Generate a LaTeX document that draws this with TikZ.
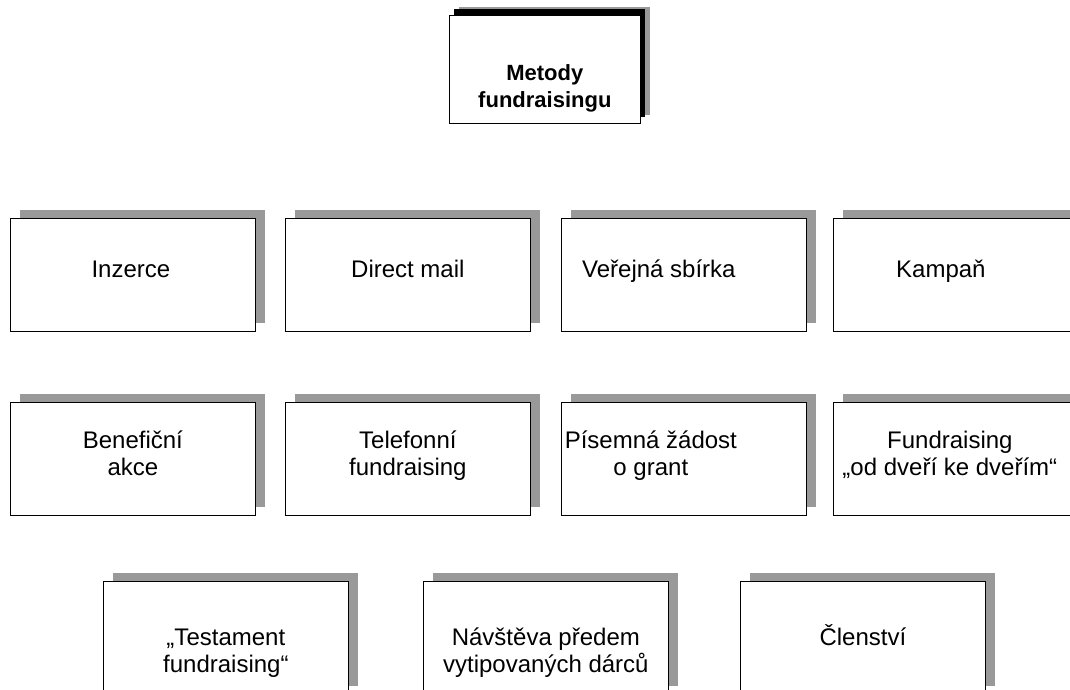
\documentclass[tikz,border=0pt]{standalone}
\usepackage{fontspec}
\setmainfont{Liberation Sans}
\usetikzlibrary{shadows,calc}
\begin{document}
\begin{tikzpicture}[x=1pt,y=-1pt,
  card/.style={draw=black, line width=0.7pt, fill=white, inner sep=0pt,
    minimum width=245pt, minimum height=113pt, anchor=north west,
    drop shadow={shadow xshift=10pt, shadow yshift=8pt, fill=black!40, opacity=1}},
  headcard/.style={card, minimum width=191pt, minimum height=108pt,
    drop shadow={shadow xshift=5pt, shadow yshift=6pt, fill=black, opacity=1}},
  lbl/.style={font=\fontsize{24}{27}\selectfont, align=center, inner sep=0pt, anchor=base},
  headlbl/.style={lbl, font=\fontsize{22}{27}\selectfont\bfseries}]
\useasboundingbox (0,0) rectangle (1070,690);
\clip (0,0) rectangle (1070,690);

% heading (base anchor of a two-line label sits on its last line)
\node[headcard] (top) at (449,15) {};
\node[headlbl] (ttop) at ($(top.north)+(0,92)$) {Metody\\fundraisingu};

% first row
\node[card] (b1) at (10,218) {};
\node[card] (b2) at (285,218) {};
\node[card] (b3) at (561,218) {};
\node[card] (b4) at (833,218) {};
\node[lbl] (t1) at ($(b1.north)+(-2,59)$) {Inzerce};
\node[lbl] (t2) at ($(b2.north)+(0,59)$) {Direct mail};
\node[lbl] (t3) at ($(b3.north)+(-25,59)$) {Veřejná sbírka};
\node[lbl] (t4) at ($(b4.north)+(-15,59)$) {Kampaň};

% second row
\node[card] (c1) at (10,402) {};
\node[card] (c2) at (285,402) {};
\node[card] (c3) at (561,402) {};
\node[card] (c4) at (833,402) {};
\node[lbl] (u1) at ($(c1.north)+(0,73)$) {Benefiční\\akce};
\node[lbl] (u2) at ($(c2.north)+(0,73)$) {Telefonní\\fundraising};
\node[lbl] (u3) at ($(c3.north)+(-33,73)$) {Písemná žádost\\o grant};
\node[lbl] (u4) at ($(c4.north)+(-6,73)$) {Fundraising\\„od dveří ke dveřím“};

% third row
\node[card] (d1) at (103,581) {};
\node[card] (d2) at (423,581) {};
\node[card] (d3) at (740,581) {};
\node[lbl] (v1) at ($(d1.north)+(0,91)$) {„Testament\\fundraising“};
\node[lbl] (v2) at ($(d2.north)+(0,91)$) {Návštěva předem\\vytipovaných dárců};
\node[lbl] (v3) at ($(d3.north)+(0,64)$) {Členství};
\end{tikzpicture}
\end{document}
